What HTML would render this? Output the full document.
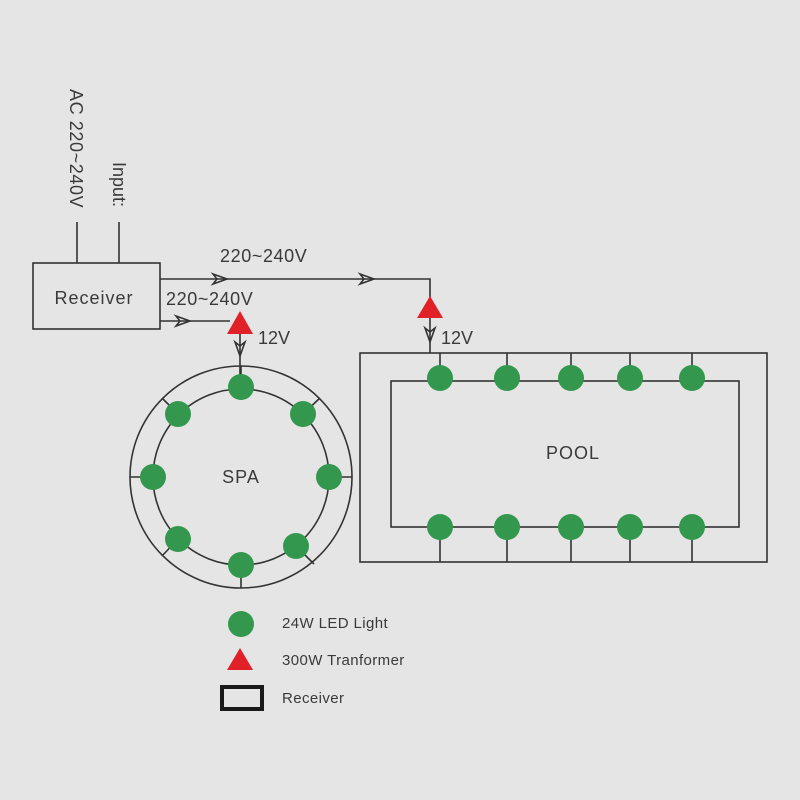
<!DOCTYPE html>
<html><head><style>body{margin:0;background:#e5e5e5}svg{display:block}</style></head><body>
<svg width="800" height="800" viewBox="0 0 800 800" xmlns="http://www.w3.org/2000/svg" font-family="Liberation Sans, sans-serif" fill="none">
<rect width="800" height="800" fill="#e5e5e5"/>
<g stroke="#333" stroke-width="1.6">
<rect x="33" y="263" width="127" height="66"/>
<line x1="77" y1="222" x2="77" y2="263"/><line x1="119" y1="222" x2="119" y2="263"/>
<polyline points="160,279 430,279 430,298"/>
<line x1="430" y1="318" x2="430" y2="353"/>
<line x1="160" y1="321" x2="230" y2="321"/>
<line x1="240" y1="334" x2="240" y2="377"/>
<path d="M213,274 L227,279 L213,284 L217,279 Z M360,274 L374,279 L360,284 L364,279 Z M176,316 L190,321 L176,326 L180,321 Z M425,328 L430,342 L435,328 L430,332 Z M235,342 L240,356 L245,342 L240,346 Z"/>
<circle cx="241" cy="477" r="111"/><circle cx="241" cy="477" r="88"/>
<line x1="241" y1="366" x2="241" y2="389"/><line x1="241" y1="565" x2="241" y2="588"/>
<line x1="130" y1="477" x2="153" y2="477"/><line x1="329" y1="477" x2="352" y2="477"/>
<line x1="162" y1="398" x2="178" y2="414"/><line x1="320" y1="398" x2="303" y2="414"/>
<line x1="162" y1="556" x2="178" y2="539"/><line x1="314" y1="564" x2="296" y2="546"/>
<rect x="360" y="353" width="407" height="209"/>
<rect x="391" y="381" width="348" height="146"/>
<path d="M440,353V378M507,353V378M571,353V378M630,353V378M692,353V378M440,527V562M507,527V562M571,527V562M630,527V562M692,527V562"/>
</g>
<g fill="#33974d">
<circle cx="241" cy="387" r="13"/><circle cx="241" cy="565" r="13"/><circle cx="153" cy="477" r="13"/><circle cx="329" cy="477" r="13"/>
<circle cx="178" cy="414" r="13"/><circle cx="303" cy="414" r="13"/><circle cx="178" cy="539" r="13"/><circle cx="296" cy="546" r="13"/>
<circle cx="440" cy="378" r="13"/><circle cx="507" cy="378" r="13"/><circle cx="571" cy="378" r="13"/><circle cx="630" cy="378" r="13"/><circle cx="692" cy="378" r="13"/>
<circle cx="440" cy="527" r="13"/><circle cx="507" cy="527" r="13"/><circle cx="571" cy="527" r="13"/><circle cx="630" cy="527" r="13"/><circle cx="692" cy="527" r="13"/>
<circle cx="241" cy="624" r="13"/>
</g>
<g fill="#e02127">
<polygon points="430,296 443,318 417,318"/>
<polygon points="240,311 253,334 227,334"/>
<polygon points="240,648 253,670 227,670"/>
</g>
<rect x="222" y="687" width="40" height="22" stroke="#1a1a1a" stroke-width="4"/>
<g fill="#3a3a3a" font-size="18">
<text x="94" y="304" text-anchor="middle" letter-spacing="1">Receiver</text>
<text x="220" y="262" letter-spacing="0.6">220~240V</text>
<text x="166" y="305" letter-spacing="0.6">220~240V</text>
<text x="258" y="344">12V</text>
<text x="441" y="344">12V</text>
<text x="241" y="483" text-anchor="middle" letter-spacing="1">SPA</text>
<text x="573" y="459" text-anchor="middle" letter-spacing="1">POOL</text>
<text transform="translate(70,89) rotate(90)" letter-spacing="0.6">AC 220~240V</text>
<text transform="translate(113,162) rotate(90)">Input:</text>
</g>
<g fill="#3a3a3a" font-size="15">
<text x="282" y="628" letter-spacing="0.4">24W LED Light</text>
<text x="282" y="665" letter-spacing="0.4">300W Tranformer</text>
<text x="282" y="703" letter-spacing="0.4">Receiver</text>
</g>
</svg>
</body></html>
